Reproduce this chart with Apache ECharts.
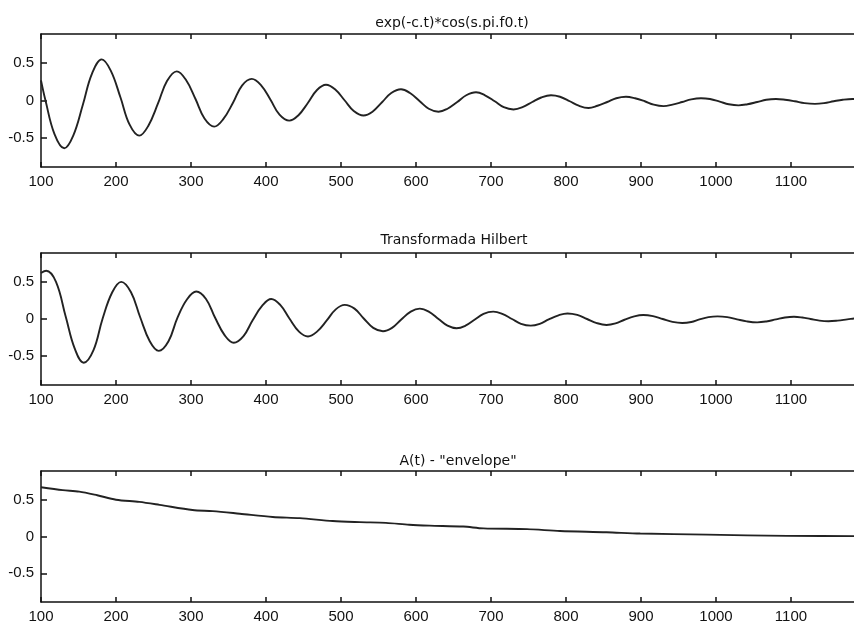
<!DOCTYPE html>
<html>
<head>
<meta charset="utf-8">
<script src="https://cdn.jsdelivr.net/npm/echarts@6/dist/echarts.min.js"></script>
<style>
  html, body { margin: 0; padding: 0; background: #fff; }
  #chart { width: 854px; height: 626px; }
</style>
</head>
<body>
<div id="chart"></div>
<script>
// titles of the three panels
const titles = [
  "exp(-c.t)*cos(s.pi.f0.t)",
  "Transformada Hilbert",
  'A(t) - "envelope"',
];

// signal: damped cosine (t, value)
const signalT = [100, 106, 118, 131, 143, 156, 168, 181, 193, 206, 218, 231, 243, 256, 268, 281, 293, 306, 318, 331,
  343, 356, 368, 381, 393, 406, 418, 431, 443, 456, 468, 480, 492, 505, 517, 530, 542, 555, 567, 580,
  592, 605, 617, 630, 642, 655, 667, 680, 692, 705, 717, 730, 742, 755, 767, 780, 792, 805, 817, 830,
  842, 855, 867, 880, 892, 905, 917, 930, 942, 955, 967, 980, 992, 1005, 1017, 1030, 1042, 1055, 1067, 1080,
  1092, 1105, 1118, 1132, 1144, 1157, 1169, 1182, 1200];
const signalV = [0.27, 0, -0.45, -0.64, -0.47, -0.05, 0.36, 0.55, 0.4, 0.04, -0.32, -0.47, -0.34, -0.04, 0.26, 0.39, 0.28, 0.02, -0.24, -0.35,
  -0.25, -0.03, 0.2, 0.29, 0.21, 0.01, -0.19, -0.27, -0.2, -0.03, 0.14, 0.21, 0.15, 0.0, -0.14, -0.2, -0.15, -0.02, 0.1, 0.15,
  0.1, -0.01, -0.11, -0.15, -0.11, -0.02, 0.07, 0.11, 0.07, -0.01, -0.09, -0.12, -0.09, -0.02, 0.04, 0.07, 0.05, -0.01, -0.07, -0.1,
  -0.07, -0.02, 0.03, 0.05, 0.03, -0.01, -0.055, -0.075, -0.055, -0.02, 0.015, 0.03, 0.02, -0.015, -0.05, -0.065, -0.05, -0.02, 0.01, 0.02,
  0.01, -0.01, -0.035, -0.045, -0.035, -0.01, 0.01, 0.02, 0.01];

// hilbert transform
const hilbertT = [100, 107, 120, 133, 145, 157, 170, 182, 195, 207, 220, 232, 245, 257, 270, 282, 295, 307, 320, 332,
  345, 357, 370, 382, 395, 407, 419, 431, 444, 456, 468, 481, 493, 505, 518, 530, 543, 556, 568, 580,
  593, 605, 617, 630, 642, 654, 666, 678, 690, 703, 715, 728, 740, 753, 765, 777, 790, 802, 815, 828,
  841, 854, 866, 878, 891, 903, 916, 929, 942, 955, 967, 978, 990, 1002, 1015, 1028, 1041, 1055, 1067, 1080,
  1092, 1104, 1115, 1126, 1138, 1150, 1162, 1175, 1188, 1200];
const hilbertV = [0.62, 0.65, 0.5, 0.03, -0.4, -0.59, -0.42, 0.0, 0.36, 0.5, 0.36, 0.03, -0.3, -0.43, -0.3, 0.02, 0.27, 0.37, 0.27, 0.02,
  -0.22, -0.32, -0.23, -0.02, 0.18, 0.27, 0.19, 0.01, -0.17, -0.235, -0.17, -0.02, 0.13, 0.19, 0.14, 0.01, -0.12, -0.165, -0.12, -0.01,
  0.1, 0.14, 0.1, 0.0, -0.09, -0.125, -0.09, -0.01, 0.07, 0.1, 0.07, 0.0, -0.065, -0.09, -0.065, -0.005, 0.05, 0.075, 0.055, 0.0,
  -0.055, -0.08, -0.06, -0.01, 0.035, 0.053, 0.038, 0.0, -0.038, -0.053, -0.04, -0.005, 0.025, 0.035, 0.025, -0.005, -0.032, -0.045, -0.033, -0.005,
  0.02, 0.03, 0.02, 0.0, -0.022, -0.03, -0.022, -0.005, 0.012, 0.02];

// envelope
const envT = [100, 129, 151, 175, 200, 231, 258, 302, 329, 365, 409, 445, 489, 525, 560, 591, 618, 663, 690, 748,
  792, 854, 899, 988, 1095, 1200];
const envV = [0.67, 0.63, 0.61, 0.56, 0.5, 0.47, 0.43, 0.36, 0.345, 0.31, 0.265, 0.25, 0.21, 0.195, 0.185, 0.16, 0.148, 0.135, 0.11, 0.1,
  0.075, 0.058, 0.04, 0.025, 0.008, 0.005];

// axis ticks
const xTicks = [100, 200, 300, 400, 500, 600, 700, 800, 900, 1000, 1100, 1200];
const xLabels = [100, 200, 300, 400, 500, 600, 700, 800, 900, 1000, 1100];
const yTicks = [-0.5, 0, 0.5];
const xMin = 100, xMax = 1200;
const yMin = -0.89, yMax = 0.89;

const pairs = (t, v) => t.map((x, i) => [x, v[i]]);
const seriesData = [pairs(signalT, signalV), pairs(hilbertT, hilbertV), pairs(envT, envV)];

const ink = "#111";
const labelFont = { color: ink, fontSize: 15, fontFamily: "Liberation Sans, Arial, sans-serif" };

// plot boxes; the right edge (t = 1200) lies just beyond the canvas
const grids = [
  { left: 41, top: 34, width: 825, height: 133, outerBoundsMode: "none", containLabel: false },
  { left: 41, top: 253, width: 825, height: 132, outerBoundsMode: "none", containLabel: false },
  { left: 41, top: 471, width: 825, height: 131, outerBoundsMode: "none", containLabel: false },
];
const titleTops = [11, 228, 449];
const titleLefts = [447, 449, 453];

const chart = echarts.init(document.getElementById("chart"), null, { renderer: "canvas" });

const xAxes = [];
const yAxes = [];
const series = [];
grids.forEach((g, i) => {
  const axisLine = { show: true, onZero: false, lineStyle: { color: ink, width: 1.5 } };
  const xTick = { show: true, inside: true, length: 5, customValues: xTicks, lineStyle: { color: ink, width: 1.5 } };
  const yTick = { show: true, inside: true, length: 6, customValues: yTicks, lineStyle: { color: ink, width: 1.5 } };
  xAxes.push({
    type: "value", gridIndex: i, position: "bottom", min: xMin, max: xMax,
    axisLine, axisTick: xTick,
    axisLabel: { ...labelFont, margin: 7, customValues: xLabels, formatter: (v) => String(v) },
    splitLine: { show: false },
  });
  xAxes.push({
    type: "value", gridIndex: i, position: "top", min: xMin, max: xMax,
    axisLine, axisTick: xTick,
    axisLabel: { show: false },
    splitLine: { show: false },
  });
  yAxes.push({
    type: "value", gridIndex: i, min: yMin, max: yMax,
    axisLine, axisTick: yTick,
    axisLabel: { ...labelFont, margin: 7, customValues: yTicks, formatter: (v) => String(v) },
    splitLine: { show: false },
  });
  series.push({
    type: "line",
    xAxisIndex: i * 2,
    yAxisIndex: i,
    data: seriesData[i],
    smooth: i === 2 ? 0.3 : 0.4,
    showSymbol: false,
    lineStyle: { color: "#222", width: 1.9 },
    silent: true,
  });
});

chart.setOption({
  backgroundColor: "#fff",
  animation: false,
  title: titles.map((t, i) => ({
    text: t,
    left: titleLefts[i],
    textAlign: "center",
    top: titleTops[i],
    textStyle: { color: ink, fontSize: 14, fontWeight: "normal", fontFamily: "DejaVu Sans, Liberation Sans, sans-serif" },
  })),
  grid: grids,
  xAxis: xAxes,
  yAxis: yAxes,
  series,
});
</script>
</body>
</html>
